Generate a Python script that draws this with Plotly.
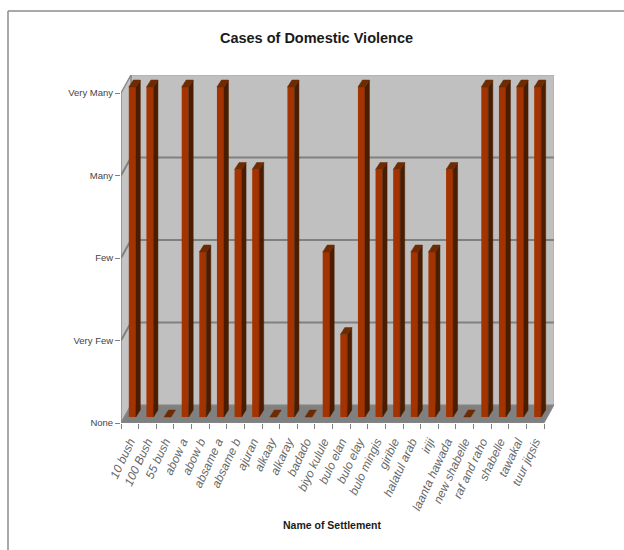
import plotly.graph_objects as go

categories = ["10 bush", "100 Bush", "55 bush", "abow a", "abow b", "absame a", "absame b", "ajuran",
              "alkaay", "alkaray", "badado", "biyo kulule", "bulo elan", "bulo elay", "bulo mingis",
              "girible", "halatul arab", "iriji", "laanta hawada", "new shabelle", "raf and raho",
              "shabelle", "tawakal", "tuur jiqsis"]
values = [4, 4, 0, 4, 2, 4, 3, 3, 0, 4, 0, 2, 1, 4, 3, 3, 2, 2, 3, 0, 4, 4, 4, 4]
level_labels = ["None", "Very Few", "Few", "Many", "Very Many"]

W, H = 624, 550
PX_L, PX_R, PX_T, PX_B = 121.0, 554.0, 75.0, 423.0     # plot box incl. depth
UX = (544.0 - 121.0) / len(categories)                  # px per category
UY = (423.0 - 93.0) / 4                                 # px per level
DX, DY = (PX_R - 544.0) / UX, (93.0 - PX_T) / UY        # wall depth in data units
BW = 7.0 / UX                                           # bar front width
BSHIFT = 2.5 / UX                                       # front face shift
BASE = 6.0 / UY                                         # front face lift
SX, SY = 4.5 / UX, 7.0 / UY                             # bar depth
n = len(categories)
xpos = list(range(n))
x0, x1 = -0.5, n - 0.5
xr = [x0, x1 + DX]
yr = [0, 4 + DY]

FRONT, SIDE, TOP = "#A33300", "#4A1C00", "#6E2A00"
SANS = "Liberation Sans"
fig = go.Figure()

def path(xs, ys):
    return "M " + " L ".join(f"{a},{b}" for a, b in zip(xs, ys)) + " Z"

def wall(xs, ys, fill, line, w):
    return dict(type="path", xref="x", yref="y", layer="below", path=path(xs, ys),
                fillcolor=fill, line=dict(color=line, width=w))

def poly(xs, ys, fill):
    fig.add_trace(go.Scatter(x=xs + xs[:1], y=ys + ys[:1], mode="lines", fill="toself",
                             fillcolor=fill, line=dict(color=fill, width=0.5),
                             hoverinfo="skip", showlegend=False))

shapes = [
    wall([x0 + DX, x1 + DX, x1 + DX, x0 + DX], [DY, DY, 4 + DY, 4 + DY], "#C0C0C0", "#A8A8A8", 1),
    wall([x0, x0 + DX, x0 + DX, x0], [0, DY, 4 + DY, 4], "#C4C4C4", "#8A8A8A", 1.5),
    wall([x0, x1, x1 + DX, x0 + DX], [0, 0, DY, DY], "#808080", "#8A8A8A", 1),
]
for lv in range(1, 4):
    shapes.append(dict(type="path", xref="x", yref="y", layer="below",
                       path=f"M {x0},{lv} L {x0 + DX},{lv + DY} L {x1 + DX},{lv + DY}",
                       line=dict(color="#808080", width=2)))
shapes += [
    dict(type="line", xref="paper", yref="paper", x0=8 / W, x1=8 / W, y0=0, y1=1 - 11 / H,
         line=dict(color="#8c8c8c", width=1.5)),
    dict(type="line", xref="paper", yref="paper", x0=8 / W, x1=1, y0=1 - 11 / H, y1=1 - 11 / H,
         line=dict(color="#8c8c8c", width=1.5)),
]

# bars: extrusions behind the front face
for xc, v in zip(xpos, values):
    l = xc + BSHIFT - BW / 2
    r = xc + BSHIFT + BW / 2
    b, t = BASE, v + BASE
    if v > 0:
        poly([r, r + SX, r + SX, r], [b, b + SY, t + SY, t], SIDE)
    poly([l, r, r + SX, l + SX], [t, t, t + SY, t + SY], TOP)

fig.add_trace(go.Bar(x=[p + BSHIFT for p in xpos], y=values, base=BASE, width=BW,
                     marker=dict(color=FRONT, line=dict(width=0)), showlegend=False,
                     hovertemplate="%{y}<extra></extra>"))

fig.update_layout(
    width=W, height=H, margin=dict(l=0, r=0, t=0, b=0, autoexpand=False),
    paper_bgcolor="white", plot_bgcolor="white", showlegend=False, barmode="overlay",
    font=dict(family=SANS, color="#333333"),
    title=dict(text="<b>Cases of Domestic Violence</b>", x=316.5 / W, xanchor="center",
               y=1 - 38 / H, yanchor="middle",
               font=dict(family=SANS, size=14.5, color="#1a1a1a")),
    xaxis=dict(domain=[PX_L / W, PX_R / W], range=xr, showgrid=False, zeroline=False,
               showline=False, tickmode="array", tickvals=xpos, ticktext=categories,
               tickangle=-65, ticks="outside", ticklen=6, tickcolor="rgba(0,0,0,0)",
               automargin=False,
               tickfont=dict(size=12, color="#666666", family=SANS, style="italic"),
               minor=dict(tickmode="array", tickvals=[p - 0.5 for p in xpos] + [x1],
                          ticks="outside", ticklen=5, tickcolor="#808080", tickwidth=1)),
    yaxis=dict(domain=[1 - PX_B / H, 1 - PX_T / H], range=yr, showgrid=False, zeroline=False,
               showline=False, tickmode="array", tickvals=list(range(5)), ticktext=level_labels,
               ticks="outside", ticklen=5, tickcolor="#808080", tickwidth=1, automargin=False,
               tickfont=dict(size=9.5, color="#444444", family=SANS)),
    shapes=shapes,
    annotations=[dict(text="<b>Name of Settlement</b>", xref="paper", yref="paper",
                      x=332 / W, y=1 - 525 / H, showarrow=False, xanchor="center", yanchor="middle",
                      font=dict(size=10.5, color="#1a1a1a", family=SANS))],
)
fig.write_html("out.html", config=dict(displayModeBar=False),
               post_script="document.body.style.margin='0';")
